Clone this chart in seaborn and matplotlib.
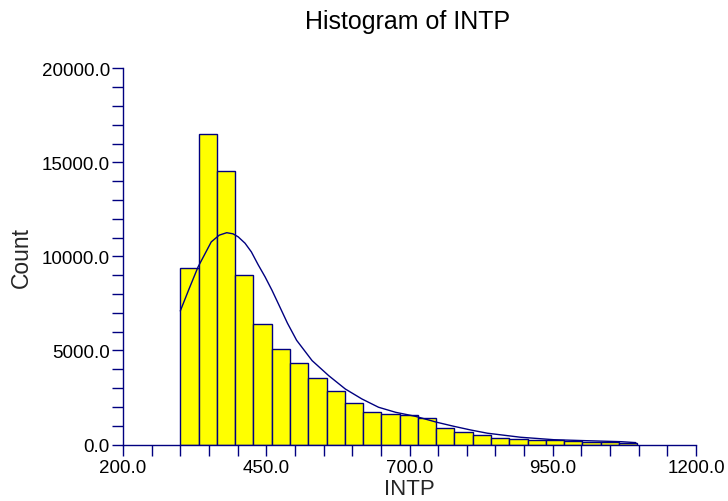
import numpy as np
import pandas as pd
import matplotlib
matplotlib.use("Agg")
import matplotlib.pyplot as plt
import seaborn as sns
from matplotlib.ticker import FixedLocator, MultipleLocator, FormatStrFormatter

# ---- data ----
bin_start = 300.0
bin_width = 31.9
counts = [9370, 16500, 14530, 9020, 6390, 5080, 4350, 3550, 2860, 2210,
          1745, 1600, 1550, 1390, 890, 680, 490, 345, 275, 255,
          225, 185, 150, 145, 95]
curve_x = [300, 315, 331, 354, 368, 381, 392, 401, 413, 424, 436, 448, 460, 471,
           487, 503, 530, 559, 588, 617, 646, 676, 710, 748, 777, 807,
           836, 894, 952, 1011, 1069, 1095]
curve_y = [7100, 8250, 9440, 10770, 11130, 11260, 11200, 11040, 10700, 10240,
           9550, 8910, 8200, 7490, 6450, 5540, 4460, 3660, 2950, 2420,
           1980, 1710, 1500, 1180, 970, 770, 600, 385, 255, 200, 150, 100]
x_ticks = [200, 450, 700, 950, 1200]
y_ticks = [0, 5000, 10000, 15000, 20000]

navy = "#000080"

sns.set_theme(style="white")
plt.rcParams["font.family"] = ["Liberation Sans", "DejaVu Sans"]

edges = [bin_start + bin_width * i for i in range(len(counts) + 1)]
centers = [(edges[i] + edges[i + 1]) / 2 for i in range(len(counts))]
df = pd.DataFrame({"INTP": centers, "Count": counts})

fig = plt.figure(figsize=(7.28, 5.02), dpi=100)
ax = fig.add_axes([123 / 728, 56.5 / 502, 573 / 728, 376.2 / 502])

sns.histplot(data=df, x="INTP", weights="Count", bins=edges,
             color="#ffff00", edgecolor=navy, linewidth=1.0, alpha=1.0, ax=ax)
sns.lineplot(x=curve_x, y=curve_y, color=navy, linewidth=1.0, ax=ax)

ax.set_xlim(x_ticks[0], x_ticks[-1])
ax.set_ylim(y_ticks[0], y_ticks[-1])
ax.xaxis.set_major_locator(FixedLocator(x_ticks))
ax.xaxis.set_minor_locator(MultipleLocator(50))
ax.yaxis.set_major_locator(FixedLocator(y_ticks))
ax.yaxis.set_minor_locator(MultipleLocator(1000))
ax.xaxis.set_major_formatter(FormatStrFormatter("%.1f"))
ax.yaxis.set_major_formatter(FormatStrFormatter("%.1f"))

for s in ["top", "right"]:
    ax.spines[s].set_visible(False)
for s in ["left", "bottom"]:
    ax.spines[s].set_color(navy)
    ax.spines[s].set_linewidth(1.0)

ax.tick_params(which="both", direction="out", length=8, width=1, color=navy,
               labelcolor="black", labelsize=13.5, left=True, bottom=True)
ax.tick_params(axis="y", which="both", pad=1.5)
ax.tick_params(axis="x", which="both", pad=2.5)

ax.set_xlabel("INTP", fontsize=16)
ax.set_ylabel("Count", fontsize=16.5)
ax.xaxis.label.set_va("center")
ax.xaxis.set_label_coords(0.5, -0.118)
ax.yaxis.label.set_va("center")
ax.yaxis.set_label_coords(-0.178, 0.5)

fig.text(408 / 728, 1 - 22 / 502, "Histogram of INTP", ha="center", va="center",
         fontsize=18, color="black")

fig.savefig("out.png", dpi=100)
